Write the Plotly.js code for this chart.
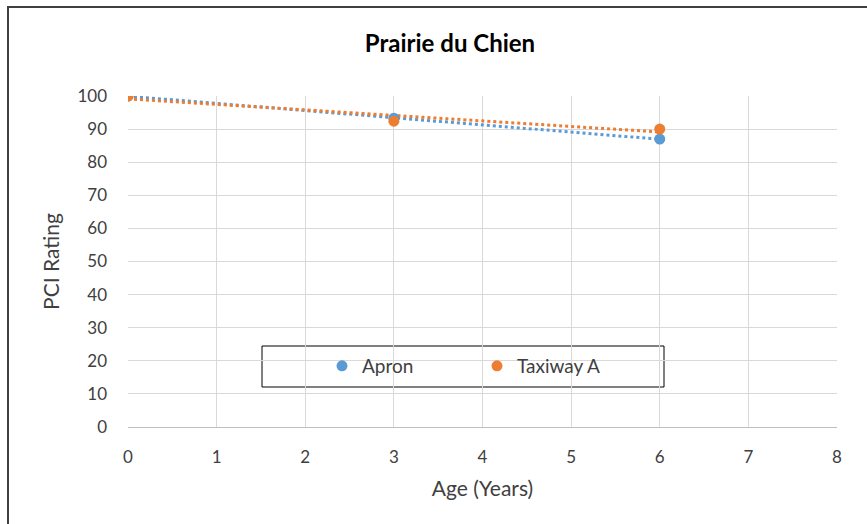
<!DOCTYPE html>
<html><head><meta charset="utf-8">
<script src="https://cdn.plot.ly/plotly-3.0.1.min.js"></script>
<style>html,body{margin:0;padding:0;background:#fff}#chart{width:867px;height:524px}</style>
</head><body><div id="chart"></div>
<script>
const ages = [0, 3, 6];
const apron = [100, 93.3, 87];
const taxiwayA = [100, 92.4, 90];
const seriesNames = ['Apron', 'Taxiway A'];
const xTicks = [0,1,2,3,4,5,6,7,8];
const yTicks = [0,10,20,30,40,50,60,70,80,90,100];

function linfit(x, y) {
  const n = x.length;
  const mx = x.reduce((a,b)=>a+b,0)/n, my = y.reduce((a,b)=>a+b,0)/n;
  let sxy=0, sxx=0;
  for (let i=0;i<n;i++){ sxy+=(x[i]-mx)*(y[i]-my); sxx+=(x[i]-mx)*(x[i]-mx); }
  const m = sxy/sxx, b = my - m*mx;
  const xs = [x[0], x[n-1]];
  return {x: xs, y: xs.map(v=>m*v+b)};
}
const blue = '#5b9bd5', orange = '#ed7d31';
const tA = linfit(ages, apron), tT = linfit(ages, taxiwayA);
const traces = [
  {x: tA.x, y: tA.y, mode:'lines', line:{color:blue, width:3, dash:'dot'}, showlegend:false, hoverinfo:'skip'},
  {x: tT.x, y: tT.y, mode:'lines', line:{color:orange, width:3, dash:'dot'}, showlegend:false, hoverinfo:'skip'},
  {x: ages, y: apron, name: seriesNames[0], mode:'markers', marker:{color:blue, size:11}},
  {x: ages, y: taxiwayA, name: seriesNames[1], mode:'markers', marker:{color:orange, size:11}}
];
const font = 'Lato, Open Sans, sans-serif';
const layout = {
  width: 867, height: 524,
  margin: {l:128, r:30, t:96, b:97},
  paper_bgcolor:'#fff', plot_bgcolor:'#fff',
  font: {family: font, color:'#404040'},
  title: {text:'<b>Prairie du Chien</b>', font:{family:font, size:24, color:'#000'}, xref:'container', x:0.519, yref:'container', y:1-44/524, yanchor:'middle'},
  xaxis: {range:[0,8], tickvals:xTicks, ticktext:xTicks.map(String), showgrid:true, gridcolor:'#d9d9d9', gridwidth:1,
    zeroline:false, showline:true, linecolor:'#bfbfbf', linewidth:1, ticks:'', ticklabelstandoff:15,
    tickfont:{size:17, color:'#404040'},
    title:{text:'Age (Years)', font:{size:21, color:'#404040'}, standoff:14}},
  yaxis: {range:[0,100], tickvals:yTicks, ticktext:yTicks.map(String), showgrid:true, gridcolor:'#d9d9d9', gridwidth:1,
    zeroline:false, showline:false, ticks:'', ticklabelstandoff:20,
    tickfont:{size:17, color:'#404040'},
    title:{text:'PCI Rating', font:{size:21, color:'#404040'}, standoff:12}},
  showlegend: true,
  legend: {orientation:'h', x:(322-128)/709, xanchor:'left', y:(427-366)/331, yanchor:'middle',
    bgcolor:'rgba(0,0,0,0)', borderwidth:0, font:{size:19, color:'#404040'},
    entrywidth:110, entrywidthmode:'pixels', itemwidth:30},
  shapes: [
    {type:'rect', xref:'paper', yref:'paper', x0:(262-128)/709, x1:(664-128)/709, y0:(427-387)/331, y1:(427-346)/331,
     line:{color:'#000', width:1}, fillcolor:'#fff', layer:'below'},
    {type:'rect', xref:'paper', yref:'paper', x0:(8-128)/709, x1:(880-128)/709, y0:(427-540)/331, y1:(427-7)/331,
     line:{color:'#404040', width:2}, fillcolor:'rgba(0,0,0,0)', layer:'above'}
  ]
};
Plotly.newPlot('chart', traces, layout, {staticPlot:true, displayModeBar:false});
</script></body></html>
